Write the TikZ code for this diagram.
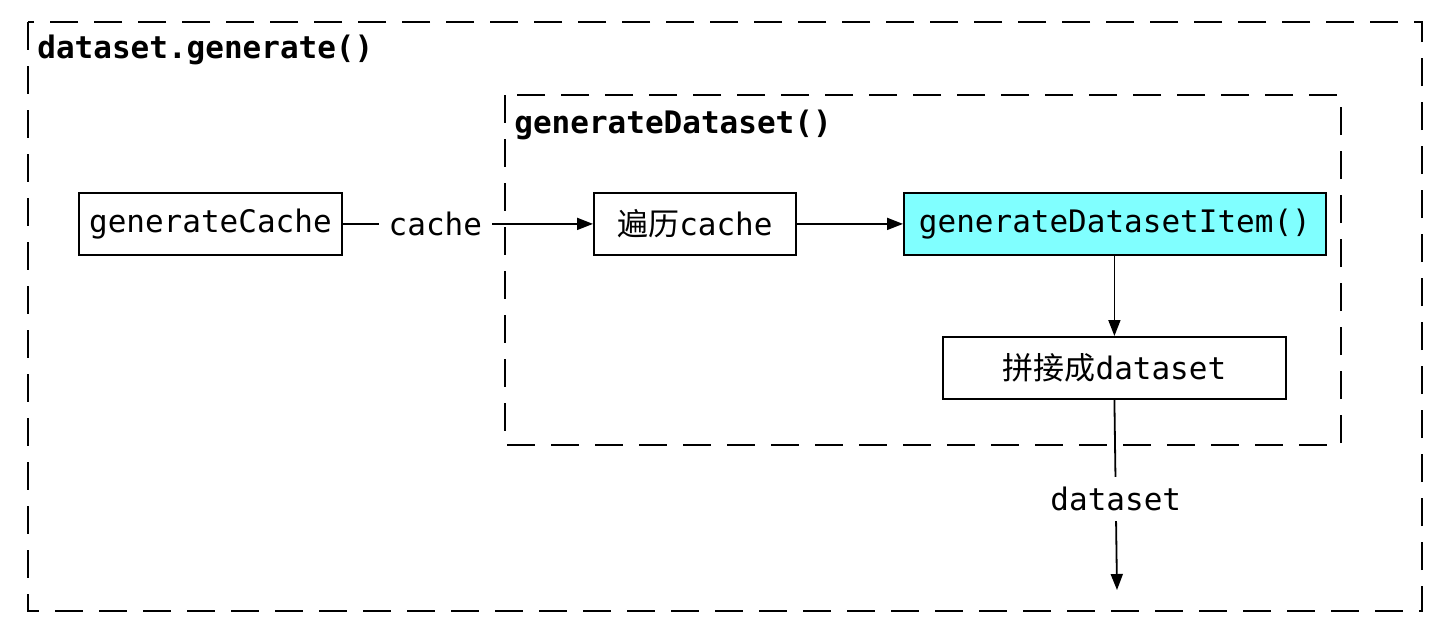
\documentclass[tikz,border=0pt]{standalone}
\usepackage{fontspec}
\setmainfont{DejaVu Sans Mono}
\newfontfamily\cjk{Noto Sans CJK SC}
\usetikzlibrary{arrows.meta}
\definecolor{itemcyan}{RGB}{128,255,255}
\begin{document}
\begin{tikzpicture}[x=0.5pt,y=-0.5pt,
  font=\fontsize{15.5}{18}\selectfont,
  frame/.style={draw, line width=1pt, dash pattern=on 14pt off 8pt},
  procbox/.style={draw, line width=0.9pt, minimum height=31pt, inner sep=0pt, anchor=north west},
  title/.style={anchor=west, inner sep=0pt, font=\fontsize{15.5}{18}\selectfont\bfseries},
  conn/.style={draw, line width=0.9pt, -{Triangle[length=8pt,width=6pt]}},
  lbl/.style={fill=white, inner sep=5pt}
]
\useasboundingbox (0,0) rectangle (1438,622);
\path[frame] (28,22) rectangle (1422,611);
\node[title] (t1) at (37,50) {dataset.generate()};
\path[frame] (505,95) rectangle (1341,445);
\node[title] (t2) at (514,125) {generateDataset()};

\node[procbox, minimum width=131.5pt] (gc) at (78,192) {generateCache};
\node[procbox, minimum width=101pt] (bl) at (593,192) {{\cjk 遍历}cache};
\node[procbox, minimum width=211pt, fill=itemcyan] (gi) at (903,192) {generateDatasetItem()};
\node[procbox, minimum width=171.5pt] (pj) at (942,336) {{\cjk 拼接成}dataset};
\coordinate (out) at (1117,590);

\draw[conn] (gc) -- node[lbl, pos=0.37] (lc) {cache} (bl);
\draw[conn] (bl) -- (gi);
\draw[conn] (gi.south -| pj.north) -- (pj.north);
\draw[conn] (pj.south) -- node[lbl, pos=0.52] (ld) {dataset} (out);
\end{tikzpicture}
\end{document}
